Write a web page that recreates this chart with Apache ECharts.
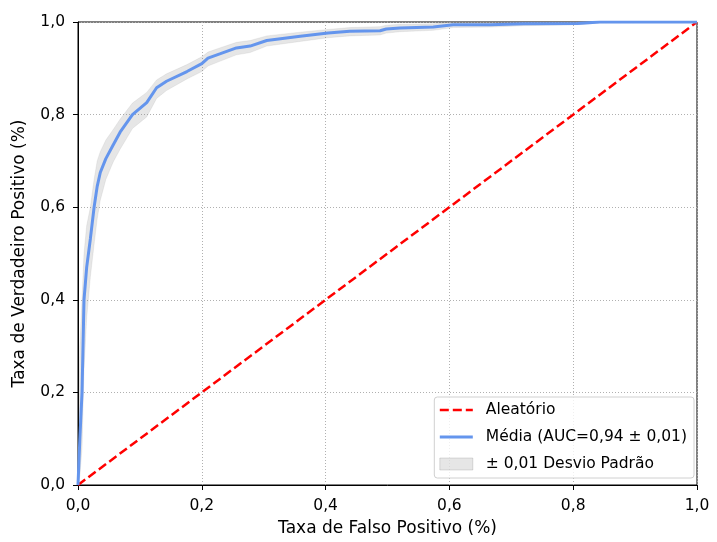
<!DOCTYPE html>
<html>
<head>
<meta charset="utf-8">
<script src="https://cdn.jsdelivr.net/npm/echarts@6/dist/echarts.min.js"></script>
<style>
  html, body { margin: 0; padding: 0; background: #fff; }
  #chart { width: 717px; height: 542px; }
</style>
</head>
<body>
<div id="chart"></div>
<script>
// curva ROC média
const fpr = [0, 0.003, 0.0065, 0.0097, 0.014, 0.020, 0.026, 0.031, 0.036, 0.045, 0.057, 0.068, 0.088, 0.111, 0.127, 0.143, 0.176, 0.200, 0.210, 0.229, 0.256, 0.278, 0.305, 0.359, 0.404, 0.439, 0.488, 0.498, 0.520, 0.574, 0.606, 0.666, 0.720, 0.807, 0.843, 1.0]
const tprMean = [0, 0.10, 0.20, 0.40, 0.47, 0.532, 0.60, 0.645, 0.675, 0.705, 0.735, 0.762, 0.80, 0.826, 0.858, 0.872, 0.893, 0.910, 0.922, 0.931, 0.944, 0.948, 0.960, 0.969, 0.976, 0.980, 0.981, 0.985, 0.987, 0.989, 0.994, 0.994, 0.996, 0.997, 1.0, 1.0]
const tprUpper = [0, 0.30, 0.40, 0.50, 0.56, 0.60, 0.66, 0.70, 0.72, 0.745, 0.768, 0.79, 0.825, 0.848, 0.875, 0.888, 0.908, 0.925, 0.935, 0.944, 0.956, 0.960, 0.970, 0.978, 0.984, 0.988, 0.990, 0.993, 0.995, 0.996, 1.0, 1.0, 1.0, 1.0, 1.0, 1.0]
const tprLower = [0, 0.02, 0.08, 0.25, 0.36, 0.45, 0.52, 0.575, 0.615, 0.66, 0.698, 0.725, 0.77, 0.795, 0.835, 0.852, 0.877, 0.893, 0.905, 0.915, 0.929, 0.934, 0.948, 0.958, 0.966, 0.970, 0.972, 0.976, 0.979, 0.982, 0.988, 0.989, 0.992, 0.994, 0.998, 1.0]
const randomLine = [[0, 0], [1, 1]]
const ticks = [0, 0.2, 0.4, 0.6, 0.8, 1.0]

const FONT = 'DejaVu Sans'
const fmt = (v) => v.toFixed(1).replace('.', ',')

const chart = echarts.init(document.getElementById('chart'), null, { renderer: 'canvas' })

const axisCommon = {
  type: 'value',
  min: ticks[0],
  max: ticks[ticks.length - 1],
  interval: 0.2,
  nameLocation: 'middle',
  nameTextStyle: { fontFamily: FONT, fontSize: 17, color: '#000' },
  axisLine: { show: true, lineStyle: { color: '#000', width: 1 } },
  axisTick: { show: true, length: 5, lineStyle: { color: '#000', width: 1 } },
  axisLabel: { fontFamily: FONT, fontSize: 15.5, color: '#000', formatter: fmt },
  splitLine: { show: true, lineStyle: { color: '#b0b0b0', width: 1, type: [1, 2] } },
}

const option = {
  animation: false,
  backgroundColor: '#fff',
  grid: {
    left: 78, right: 20, top: 22, bottom: 54,
    show: true, borderColor: '#000', borderWidth: 1, backgroundColor: 'transparent',
  },
  xAxis: {
    ...axisCommon,
    name: 'Taxa de Falso Positivo (%)',
    nameGap: 35,
    axisLabel: { ...axisCommon.axisLabel, margin: 13 },
  },
  yAxis: {
    ...axisCommon,
    name: 'Taxa de Verdadeiro Positivo (%)',
    nameGap: 50,
    axisLabel: { ...axisCommon.axisLabel, margin: 13 },
  },
  legend: {
    orient: 'vertical',
    right: 23,
    bottom: 64,
    padding: [4, 7, 5, 4],
    itemWidth: 33,
    itemHeight: 12,
    itemGap: 9,
    borderColor: '#d0d0d0',
    borderWidth: 1,
    borderRadius: 3,
    backgroundColor: 'rgba(255,255,255,0.8)',
    textStyle: { fontFamily: FONT, fontSize: 15.5, lineHeight: 18, color: '#000', padding: [0, 0, 0, 8] },
    data: [
      { name: 'Aleatório', itemStyle: { opacity: 0 }, lineStyle: { width: 2.5 } },
      { name: 'Média (AUC=0,94 ± 0,01)', itemStyle: { opacity: 0 }, lineStyle: { width: 3 } },
      { name: '± 0,01 Desvio Padrão', icon: 'rect', itemStyle: { color: 'rgba(128,128,128,0.2)', borderColor: 'rgba(128,128,128,0.25)', borderWidth: 1 } },
    ],
  },
  series: [
    {
      name: '± 0,01 Desvio Padrão',
      type: 'custom',
      z: 1,
      data: [[0, 0]],
      itemStyle: { color: 'rgba(128,128,128,0.2)' },
      renderItem: (params, api) => {
        const pts = []
        for (let i = 0; i < fpr.length; i++) pts.push(api.coord([fpr[i], tprUpper[i]]))
        for (let i = fpr.length - 1; i >= 0; i--) pts.push(api.coord([fpr[i], tprLower[i]]))
        return {
          type: 'polygon',
          shape: { points: pts },
          style: { fill: 'rgba(128,128,128,0.2)', stroke: 'rgba(128,128,128,0.12)', lineWidth: 1 },
        }
      },
    },
    {
      name: 'Aleatório',
      type: 'line',
      z: 3,
      data: randomLine,
      symbol: 'none',
      lineStyle: { color: '#ff0000', width: 2.5, type: [9, 4], cap: 'butt' },
      itemStyle: { color: '#ff0000' },
    },
    {
      name: 'Média (AUC=0,94 ± 0,01)',
      type: 'line',
      z: 4,
      data: fpr.map((x, i) => [x, tprMean[i]]),
      symbol: 'none',
      lineStyle: { color: '#6495ed', width: 3 },
      itemStyle: { color: '#6495ed' },
    },
  ],
}

chart.setOption(option)
</script>
</body>
</html>
